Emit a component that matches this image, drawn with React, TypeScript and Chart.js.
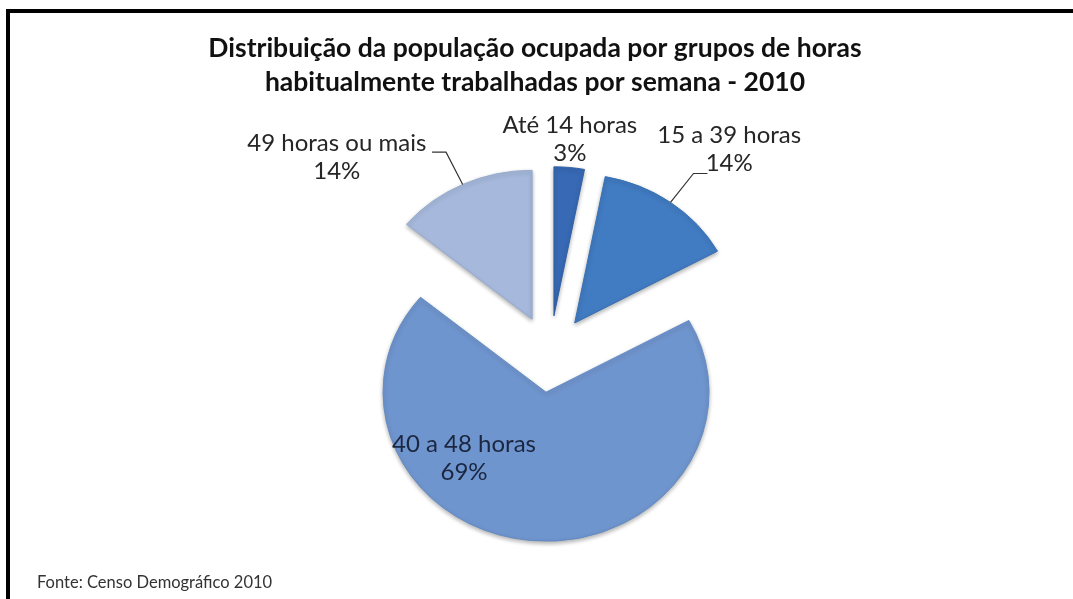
import React, { useEffect, useRef } from "react";
import { Chart, registerables } from "chart.js";

Chart.register(...registerables);

// ---- data ----
const categories = ["Até 14 horas", "15 a 39 horas", "40 a 48 horas", "49 horas ou mais"];
const percentages = [3, 14, 69, 14];
const titleLines = [
  "Distribuição da população ocupada por grupos de horas",
  "habitualmente trabalhadas por semana - 2010",
];
const sourceNote = "Fonte: Censo Demográfico 2010";

// ---- styling / placement ----
const sliceColors = ["#3769b4", "#417bc2", "#6f95ce", "#a6b9dc"];
const sliceBorders = ["#2f5ea3", "#3670b3", "#6389c2", "#96a9cc"];
const labelAngleShift = [-0.7, 3.2, 43.3, -22.5]; // degrees from slice mid-angle
const labelRadius = [1.19, 1.5, 0.67, 1.62]; // multiples of outer radius
const labelHasLeader = [false, true, false, true];

const W = 1073;
const H = 599;
const RADIUS = 163;
const SQUASH = 0.914;
const EXPLODE = 42;
const FONT = "Lato, 'DejaVu Sans', sans-serif";

function sliceShift(el: any) {
  const p = el.getProps(["x", "y", "startAngle", "endAngle"], true);
  const mid = (p.startAngle + p.endAngle) / 2;
  return { mid, dx: Math.cos(mid) * EXPLODE, dy: Math.sin(mid) * EXPLODE, x: p.x, y: p.y };
}

// draws the library's arc elements, exploded and tilted (squashed vertically)
const explodePlugin = {
  id: "explodeTilt",
  beforeDatasetsDraw(chart: any) {
    const meta = chart.getDatasetMeta(0);
    const ctx = chart.ctx;
    const a = meta.data[0];
    ctx.save();
    ctx.translate(a.x, a.y);
    ctx.scale(1, SQUASH);
    ctx.translate(-a.x, -a.y);
    ctx.shadowColor = "rgba(0,0,0,0.30)";
    ctx.shadowBlur = 4;
    ctx.shadowOffsetX = 0;
    ctx.shadowOffsetY = 2;
    meta.data.forEach((el: any) => {
      const s = sliceShift(el);
      ctx.save();
      ctx.translate(s.dx, s.dy);
      el.draw(ctx, chart.chartArea);
      ctx.restore();
    });
    ctx.restore();
    return false;
  },
};

const labelPlugin = {
  id: "sliceLabels",
  afterDraw(chart: any) {
    const ctx = chart.ctx;
    const meta = chart.getDatasetMeta(0);
    ctx.save();
    // title
    ctx.fillStyle = "#111111";
    ctx.font = `bold 26.5px ${FONT}`;
    ctx.textAlign = "center";
    ctx.textBaseline = "middle";
    ctx.fillText(titleLines[0], 535, 48);
    ctx.fillText(titleLines[1], 535, 82);
    // source
    ctx.font = `16.5px ${FONT}`;
    ctx.textAlign = "left";
    ctx.fillStyle = "#333333";
    ctx.fillText(sourceNote, 37, 583);

    meta.data.forEach((el: any, i: number) => {
      const s = sliceShift(el);
      const R = el.getProps(["outerRadius"], true).outerRadius;
      const vx = s.x + s.dx;
      const vy = s.y + s.dy * SQUASH;
      const mid = s.mid;
      const la = mid + (labelAngleShift[i] * Math.PI) / 180;
      const lx = vx + Math.cos(la) * R * labelRadius[i];
      const ly = vy + Math.sin(la) * R * labelRadius[i] * SQUASH;

      if (labelHasLeader[i]) {
        const sx = vx + Math.cos(mid) * R;
        const sy = vy + Math.sin(mid) * R * SQUASH;
        const ex = vx + Math.cos(mid) * R * 1.24;
        const ey = vy + Math.sin(mid) * R * 1.24 * SQUASH;
        const dir = Math.cos(mid) >= 0 ? 1 : -1;
        ctx.strokeStyle = "#333333";
        ctx.lineWidth = 1.2;
        ctx.beginPath();
        ctx.moveTo(sx, sy);
        ctx.lineTo(ex, ey);
        ctx.lineTo(ex + dir * 14, ey);
        ctx.stroke();
      }

      ctx.font = `24px ${FONT}`;
      ctx.textAlign = "center";
      ctx.textBaseline = "middle";
      ctx.fillStyle = i === 2 ? "#1b2640" : "#262626";
      ctx.fillText(categories[i], lx, ly - 14);
      ctx.fillText(`${percentages[i]}%`, lx, ly + 14);
    });
    ctx.restore();
  },
};

export default function App() {
  const ref = useRef<HTMLCanvasElement | null>(null);

  useEffect(() => {
    if (!ref.current) return;
    const chart = new Chart(ref.current, {
      type: "pie",
      data: {
        labels: categories,
        datasets: [
          {
            data: percentages,
            backgroundColor: sliceColors,
            borderColor: sliceBorders,
            borderWidth: 1,
            offset: 0,
            hoverOffset: 0,
          } as any,
        ],
      },
      options: {
        responsive: false,
        animation: false,
        radius: RADIUS,
        layout: { padding: { left: 27, right: 0, top: 109, bottom: 0 } },
        plugins: {
          legend: { display: false },
          title: { display: false },
          tooltip: { enabled: false },
        },
        events: [],
      } as any,
      plugins: [explodePlugin, labelPlugin],
    });
    return () => chart.destroy();
  }, []);

  return (
    <div style={{ position: "fixed", left: 0, top: 0, width: W, height: H, background: "#ffffff", overflow: "hidden" }}>
      <div
        style={{
          position: "absolute",
          left: 6,
          top: 9,
          right: -10,
          bottom: -10,
          borderTop: "4px solid #000",
          borderLeft: "4px solid #000",
        }}
      />
      <canvas ref={ref} width={W} height={H} style={{ position: "absolute", left: 0, top: 0 }} />
    </div>
  );
}
